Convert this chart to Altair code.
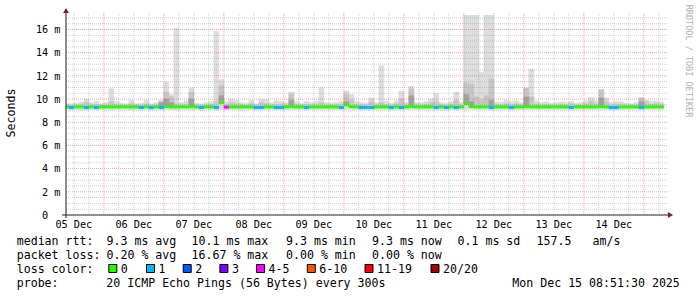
import altair as alt
import pandas as pd

MONO = "DejaVu Sans Mono"
L, T = 66, 15          # plot origin in the page
W, H = 600, 200

# ---------------- data ----------------
# 2-hour consolidation steps, hours counted from 05 Dec 00:00
step_hours = 2
first_step_hour = 8
x_domain = [8.858, 248.858]      # 05 Dec 08:51:30 .. 15 Dec 08:51:30
y_domain = [0, 17.25]            # milliseconds

smoke_min = [
    9.10, 9.05, 9.10, 9.05, 9.05, 9.10, 9.05, 9.10, 9.10, 9.05, 9.10, 9.10,
    9.10, 9.05, 9.10, 9.05, 9.10, 9.05, 9.10, 9.05, 9.10, 9.10, 9.05, 9.10,
    9.10, 9.05, 9.10, 9.05, 9.10, 9.10, 9.05, 9.10, 9.05, 9.10, 9.10, 9.05,
    9.10, 9.10, 9.05, 9.05, 9.10, 9.10, 9.05, 9.05, 9.10, 9.10, 9.10, 9.10,
    9.05, 9.10, 9.10, 9.10, 9.10, 9.10, 9.10, 9.05, 9.10, 9.10, 9.10, 9.05,
    9.05, 9.05, 9.10, 9.10, 9.10, 9.05, 9.10, 9.05, 9.10, 9.10, 9.10, 9.10,
    9.10, 9.10, 9.05, 9.10, 9.05, 9.10, 9.05, 9.10, 9.10, 9.10, 9.10, 9.10,
    9.10, 9.05, 9.10, 9.10, 9.10, 9.05, 9.10, 9.10, 9.10, 9.10, 9.10, 9.10,
    9.10, 9.10, 9.10, 9.10, 9.10, 9.05, 9.10, 9.10, 9.10, 9.10, 9.10, 9.10,
    9.10, 9.05, 9.05, 9.10, 9.10, 9.10, 9.10, 9.05, 9.10, 9.10, 9.10, 9.10,
]
smoke_max = [
    9.60, 9.60, 9.65, 9.75, 10.0, 9.70, 9.80, 9.60, 9.70, 10.9, 9.80, 9.65,
    9.60, 9.90, 9.60, 9.65, 9.90, 9.60, 9.70, 9.90, 11.47, 10.4, 16.1, 9.70,
    9.85, 10.95, 9.65, 9.60, 9.70, 9.80, 15.85, 11.67, 9.80, 10.0, 9.90, 9.70,
    9.65, 9.90, 9.60, 10.0, 9.95, 9.70, 9.85, 9.80, 9.70, 10.6, 9.80, 9.65,
    9.80, 9.70, 9.80, 11.0, 9.70, 9.65, 9.70, 9.80, 10.7, 10.4, 9.80, 9.70,
    9.65, 10.1, 9.70, 12.9, 9.80, 9.65, 9.85, 10.7, 9.70, 11.1, 9.70, 9.70,
    9.80, 10.0, 10.5, 9.70, 9.65, 9.80, 10.6, 9.70, 17.5, 17.5, 17.5, 12.3,
    17.5, 17.5, 9.75, 9.70, 9.90, 9.80, 9.85, 9.70, 10.95, 12.6, 9.85, 9.70,
    9.75, 9.65, 9.70, 9.75, 9.70, 9.80, 9.65, 9.70, 9.85, 10.15, 9.85, 10.85,
    10.1, 9.70, 9.80, 9.75, 9.65, 9.60, 9.70, 10.1, 9.90, 9.80, 9.85, 9.75,
]
smoke_mid = [
    9.50, 9.50, 9.50, 9.55, 9.70, 9.50, 9.55, 9.50, 9.50, 9.80, 9.55, 9.50,
    9.50, 9.60, 9.50, 9.50, 9.60, 9.50, 9.50, 9.80, 10.6, 10.2, 9.60, 9.50,
    9.55, 10.6, 9.50, 9.50, 9.50, 9.55, 9.80, 11.2, 9.55, 9.70, 9.60, 9.50,
    9.50, 9.60, 9.50, 9.70, 9.60, 9.50, 9.55, 9.55, 9.50, 10.4, 9.55, 9.50,
    9.55, 9.50, 9.55, 9.70, 9.50, 9.50, 9.50, 9.55, 10.4, 9.90, 9.55, 9.50,
    9.50, 9.80, 9.50, 9.70, 9.55, 9.50, 9.60, 10.0, 9.50, 10.9, 9.50, 9.50,
    9.55, 9.70, 9.80, 9.50, 9.50, 9.55, 9.90, 9.50, 11.4, 11.3, 10.2, 9.90,
    10.3, 11.75, 9.55, 9.50, 9.60, 9.55, 9.60, 9.50, 10.95, 10.2, 9.60, 9.50,
    9.55, 9.50, 9.50, 9.55, 9.50, 9.60, 9.50, 9.50, 9.60, 9.80, 9.60, 10.8,
    9.80, 9.50, 9.55, 9.55, 9.50, 9.50, 9.50, 10.1, 9.80, 9.55, 9.60, 9.55,
]
smoke_dark = [
    9.3, 9.3, 9.3, 9.3, 9.3, 9.3, 9.3, 9.3, 9.3, 9.3, 9.3, 9.3,
    9.3, 9.3, 9.3, 9.3, 9.3, 9.3, 9.3, 9.7, 10.0, 9.7, 9.3, 9.3,
    9.3, 10.0, 9.3, 9.3, 9.3, 9.3, 9.3, 10.3, 9.3, 9.3, 9.3, 9.3,
    9.3, 9.3, 9.3, 9.3, 9.3, 9.3, 9.3, 9.3, 9.3, 9.9, 9.3, 9.3,
    9.3, 9.3, 9.3, 9.3, 9.3, 9.3, 9.3, 9.3, 9.8, 9.3, 9.3, 9.3,
    9.3, 9.3, 9.3, 9.3, 9.3, 9.3, 9.3, 9.3, 9.3, 10.3, 9.3, 9.3,
    9.3, 9.3, 9.3, 9.3, 9.3, 9.3, 9.3, 9.3, 10.4, 9.8, 9.3, 9.3,
    9.3, 9.9, 9.3, 9.3, 9.3, 9.3, 9.3, 9.3, 10.2, 9.3, 9.3, 9.3,
    9.3, 9.3, 9.3, 9.3, 9.3, 9.3, 9.3, 9.3, 9.3, 9.3, 9.3, 10.1,
    9.3, 9.3, 9.3, 9.3, 9.3, 9.3, 9.3, 9.8, 9.3, 9.3, 9.3, 9.3,
]
median = [
    9.32, 9.27, 9.32, 9.32, 9.27, 9.32, 9.27, 9.32, 9.32, 9.32, 9.32, 9.32,
    9.32, 9.32, 9.32, 9.27, 9.32, 9.27, 9.32, 9.27, 9.35, 9.32, 9.32, 9.32,
    9.32, 9.35, 9.32, 9.27, 9.32, 9.32, 9.27, 9.70, 9.30, 9.32, 9.32, 9.32,
    9.32, 9.32, 9.27, 9.27, 9.32, 9.32, 9.27, 9.27, 9.32, 9.35, 9.32, 9.32,
    9.27, 9.32, 9.32, 9.32, 9.32, 9.32, 9.32, 9.27, 9.50, 9.35, 9.32, 9.27,
    9.27, 9.27, 9.32, 9.32, 9.32, 9.27, 9.32, 9.27, 9.32, 9.35, 9.32, 9.32,
    9.32, 9.32, 9.27, 9.32, 9.27, 9.32, 9.27, 9.32, 9.60, 9.35, 9.32, 9.32,
    9.32, 9.27, 9.32, 9.32, 9.32, 9.27, 9.32, 9.32, 9.35, 9.32, 9.32, 9.32,
    9.32, 9.32, 9.32, 9.32, 9.32, 9.27, 9.32, 9.32, 9.32, 9.32, 9.32, 9.35,
    9.32, 9.27, 9.27, 9.32, 9.32, 9.32, 9.32, 9.27, 9.32, 9.32, 9.32, 9.32,
]
loss = [  # lost pings out of 20 per step
    0, 1, 0, 0, 1, 0, 1, 0, 0, 0, 0, 0,
    0, 0, 0, 1, 0, 1, 0, 1, 0, 0, 0, 0,
    0, 0, 0, 1, 0, 0, 1, 0, 4, 0, 0, 0,
    0, 0, 1, 1, 0, 0, 1, 1, 0, 0, 0, 0,
    1, 0, 0, 0, 0, 0, 0, 1, 0, 0, 0, 1,
    1, 1, 0, 0, 0, 1, 0, 1, 0, 0, 0, 0,
    0, 0, 1, 0, 1, 0, 1, 0, 0, 0, 0, 0,
    0, 1, 0, 0, 0, 1, 0, 0, 0, 0, 0, 0,
    0, 0, 0, 0, 0, 1, 0, 0, 0, 0, 0, 0,
    0, 1, 1, 0, 0, 0, 0, 1, 0, 0, 0, 0,
]

loss_labels = ["0", "1", "2", "3", "4-5", "6-10", "11-19", "20/20"]
loss_upper = [0, 1, 2, 3, 5, 10, 19, 20]
loss_colors = ["#26ff00", "#00b8ff", "#0059ff", "#7e00ff",
               "#ff00ff", "#ff5500", "#ff0000", "#a00000"]

y_ticks = [2, 4, 6, 8, 10, 12, 14, 16]
y_tick_labels = ["2 m", "4 m", "6 m", "8 m", "10 m", "12 m", "14 m", "16 m"]
y_zero = [0]
y_zero_label = ["0"]
x_label_hours = [12, 36, 60, 84, 108, 132, 156, 180, 204, 228]
x_labels = ["05 Dec", "06 Dec", "07 Dec", "08 Dec", "09 Dec",
            "10 Dec", "11 Dec", "12 Dec", "13 Dec", "14 Dec"]
grid_major_h = [24, 48, 72, 96, 120, 144, 168, 192, 216, 240]
grid_minor_h = [12, 18, 30, 36, 42, 54, 60, 66, 78, 84, 90, 102, 108, 114,
                126, 132, 138, 150, 156, 162, 174, 180, 186, 198, 204, 210,
                222, 228, 234, 246]
grid_major_v = [2, 4, 6, 8, 10, 12, 14, 16]
grid_minor_v = [v / 2 for v in range(1, 35) if v % 4 != 0]

rtt_label = "median rtt:"
rtt_stats = ["9.3 ms avg", "10.1 ms max", "9.3 ms min", "9.3 ms now",
             "0.1 ms sd", "157.5", "am/s"]
loss_label = "packet loss:"
loss_stats = ["0.20 % avg", "16.67 % max", "0.00 % min", "0.00 % now"]
color_label = "loss color:"
probe_label = "probe:"
probe_text = "20 ICMP Echo Pings (56 Bytes) every 300s"
stamp_text = "Mon Dec 15 08:51:30 2025"
y_title = "Seconds"
watermark = "RRDTOOL / TOBI OETIKER"


def loss_cat(n):
    for lab, up in zip(loss_labels, loss_upper):
        if n <= up:
            return lab
    return loss_labels[-1]


starts = [first_step_hour + step_hours * k for k in range(len(median))]
df = pd.DataFrame({
    "s": starts,
    "e": [s + step_hours for s in starts],
    "lo": smoke_min, "hi": smoke_max, "mid": smoke_mid, "dk": smoke_dark,
    "med": median, "cat": [loss_cat(n) for n in loss],
})

xs = alt.Scale(domain=x_domain, nice=False, zero=False)
ys = alt.Scale(domain=y_domain, nice=False, zero=False)
X = lambda f: alt.X(f, scale=xs, axis=None)
Y = lambda f: alt.Y(f, scale=ys, axis=None)
px = lambda x: x - L
py = lambda y: y - T
one = pd.DataFrame({"a": [0]})


def band(lo, hi, color):
    return alt.Chart(df).mark_rect(color=color, stroke=color, strokeWidth=0.5,
                                   clip=True).encode(
        x=X("s:Q"), x2="e", y=Y(f"{lo}:Q"), y2=hi)


light = band("lo", "hi", "#dddddd")
mid = band("med", "mid", "#c6c6c6")
dark = band("med", "dk", "#a2a2a2")

line = alt.Chart(df).mark_rule(strokeWidth=3, clip=True).encode(
    x=X("s:Q"), x2="e", y=Y("med:Q"),
    color=alt.Color("cat:N", scale=alt.Scale(domain=loss_labels, range=loss_colors),
                    legend=None))


def vgrid(vals, color, op):
    return alt.Chart(pd.DataFrame({"h": vals})).mark_rule(
        color=color, opacity=op, strokeDash=[1, 1], strokeWidth=1).encode(
        x=X("h:Q"), y=alt.value(py(13)), y2=alt.value(py(215)))


def hgrid(vals, color, op):
    return alt.Chart(pd.DataFrame({"v": vals})).mark_rule(
        color=color, opacity=op, strokeDash=[1, 1], strokeWidth=1).encode(
        y=Y("v:Q"), x=alt.value(0), x2=alt.value(px(668)))


GRID, MGRID = "#8f8f8f", "#de4f4f"
grids = [vgrid(grid_minor_h, GRID, 0.42), hgrid(grid_minor_v, GRID, 0.42),
         vgrid(grid_major_h, MGRID, 0.5), hgrid(grid_major_v, MGRID, 0.5)]

x_axis = alt.Chart(one).mark_rule(color="#1f1f1f").encode(
    x=alt.value(px(62)), x2=alt.value(px(669)), y=alt.value(py(215)))
y_axis = alt.Chart(one).mark_rule(color="#1f1f1f").encode(
    x=alt.value(0), y=alt.value(py(218)), y2=alt.value(py(12)))
arrow_up = alt.Chart(one).mark_point(shape="triangle-up", filled=True, opacity=1,
                                     color="#801f1f", size=36).encode(
    x=alt.value(0), y=alt.value(py(10.5)))
arrow_right = alt.Chart(one).mark_point(shape="triangle-right", filled=True, opacity=1,
                                        color="#801f1f", size=36).encode(
    x=alt.value(px(670.5)), y=alt.value(py(215)))

ylabels = alt.Chart(pd.DataFrame({"v": y_ticks, "t": y_tick_labels})).mark_text(
    font=MONO, fontSize=10.2, align="right", baseline="alphabetic", dy=3.7,
    color="black").encode(y=Y("v:Q"), x=alt.value(px(60.5)), text="t:N")
yzero = alt.Chart(pd.DataFrame({"v": y_zero, "t": y_zero_label})).mark_text(
    font=MONO, fontSize=10.2, align="right", baseline="alphabetic", dy=3.7,
    color="black").encode(y=Y("v:Q"), x=alt.value(px(48.2)), text="t:N")
xlabels = alt.Chart(pd.DataFrame({"h": x_label_hours, "t": x_labels})).mark_text(
    font=MONO, fontSize=10.2, align="center", baseline="alphabetic",
    color="black").encode(x=X("h:Q"), y=alt.value(py(227.5)), text="t:N")


def txt(s, x, y, size=11.6, color="black", align="left", angle=None):
    kw = dict(font=MONO, fontSize=size, color=color, align=align,
              baseline="alphabetic")
    if angle is not None:
        kw["angle"] = angle
    return alt.Chart(pd.DataFrame({"t": [s]})).mark_text(**kw).encode(
        text="t:N", x=alt.value(px(x)), y=alt.value(py(y)))


texts = [
    txt(y_title, 15, 113, angle=270, align="center"),
    txt(watermark, 685.5, 61, size=8.5, color="#b0b0b0", angle=90, align="center"),
]
row_y = [244.5, 258.5, 272.5, 287]
rtt_x = [106.5, 191.5, 286, 372, 457.5, 536.5, 592.5]
loss_x = [106.5, 191.5, 286, 372]
texts.append(txt(rtt_label, 16.7, row_y[0]))
texts += [txt(s, x, row_y[0]) for s, x in zip(rtt_stats, rtt_x)]
texts.append(txt(loss_label, 16.7, row_y[1]))
texts += [txt(s, x, row_y[1]) for s, x in zip(loss_stats, loss_x)]
texts.append(txt(color_label, 16.7, row_y[2]))
box_x = [108.3, 146, 182.7, 219.4, 256.1, 306.8, 364.5, 430.5]
for lab, col, bx in zip(loss_labels, loss_colors, box_x):
    texts.append(alt.Chart(one).mark_rect(fill=col, stroke="black", strokeWidth=1).encode(
        x=alt.value(px(bx + 0.5)), x2=alt.value(px(bx + 8.5)),
        y=alt.value(py(264.5)), y2=alt.value(py(272.5))))
    texts.append(txt(lab, bx + 12.5, row_y[2]))
texts.append(txt(probe_label, 16.7, row_y[3]))
texts.append(txt(probe_text, 106.3, row_y[3]))
texts.append(txt(stamp_text, 512.3, row_y[3]))

chart = alt.layer(
    light, mid, dark, line, *grids, x_axis, y_axis, arrow_up, arrow_right,
    ylabels, yzero, xlabels, *texts
).properties(
    width=W, height=H,
    autosize=alt.AutoSizeParams(type="none"),
    padding={"left": L, "top": T, "right": 697 - L - W, "bottom": 297 - T - H},
    background="white",
).configure_view(stroke=None)

chart.save("out.html", embed_options={"renderer": "svg", "actions": False})
